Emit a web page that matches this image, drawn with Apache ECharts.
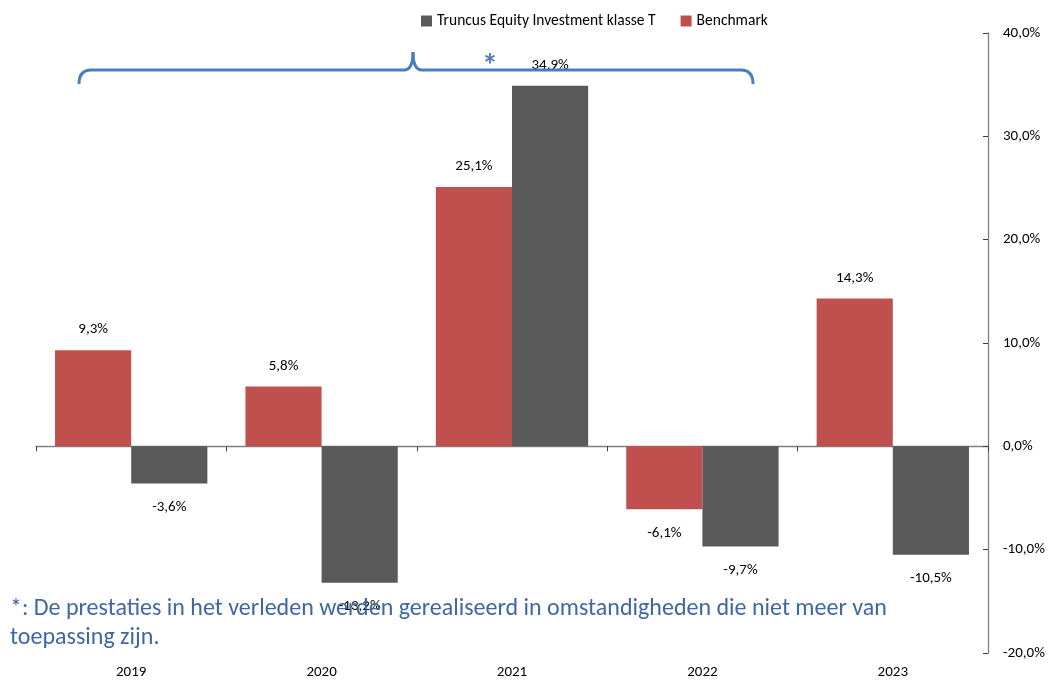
<!DOCTYPE html>
<html>
<head>
<meta charset="utf-8">
<script src="https://cdn.jsdelivr.net/npm/echarts@6/dist/echarts.min.js"></script>
<style>html,body{margin:0;padding:0;background:#fff}#c{width:1051px;height:683px}</style>
</head>
<body>
<div id="c"></div>
<script>
const categories = ['2019', '2020', '2021', '2022', '2023'];
const truncusValues = [-3.6, -13.2, 34.9, -9.7, -10.5];
const benchmarkValues = [9.3, 5.8, 25.1, -6.1, 14.3];
const seriesNames = ['Truncus Equity Investment klasse T', 'Benchmark'];
const yTicks = { min: -20, max: 40, interval: 10 };
const footnoteLines = ['*: De prestaties in het verleden werden gerealiseerd in omstandigheden die niet meer van', 'toepassing zijn.'];

const FONT = 'Carlito, "Liberation Sans Narrow", "Open Sans", sans-serif';
const fmt = v => v.toFixed(1).replace('.', ',') + '%';
const toData = arr => arr.map(v => v < 0 ? { value: v, label: { position: 'bottom', distance: 16 } } : v);

const chart = echarts.init(document.getElementById('c'));
const labelCfg = { show: true, position: 'top', distance: 13, fontFamily: FONT, fontSize: 15, color: '#000', formatter: p => fmt(p.value) };

const braceStyle = { fill: 'none', stroke: '#4A7EBB', lineWidth: 3 };
const curve = (x1, y1, cx, cy, x2, y2) => ({ type: 'bezierCurve', z: 100, shape: { x1, y1, x2, y2, cpx1: cx, cpy1: cy }, style: braceStyle });
const seg = (x1, y1, x2, y2) => ({ type: 'line', z: 100, shape: { x1, y1, x2, y2 }, style: braceStyle });

chart.setOption({
  animation: false,
  textStyle: { fontFamily: FONT },
  legend: {
    top: 8, left: 416,
    itemWidth: 11, itemHeight: 11, itemGap: 25,
    icon: 'rect',
    textStyle: { fontFamily: FONT, fontSize: 15.5, color: '#000' },
    data: [seriesNames[0], seriesNames[1]]
  },
  grid: { left: 36, right: 63, top: 33, bottom: 30 },
  xAxis: [
    {
      type: 'category', data: categories,
      axisLine: { onZero: true, lineStyle: { color: '#808080', width: 1.3 } },
      axisTick: { show: true, length: 5, lineStyle: { color: '#404040' } },
      axisLabel: { show: false }
    },
    {
      type: 'category', data: categories, position: 'bottom',
      axisLine: { show: false }, axisTick: { show: false },
      axisLabel: { margin: 12, fontFamily: FONT, fontSize: 15, color: '#000' }
    }
  ],
  yAxis: {
    type: 'value', position: 'right', min: yTicks.min, max: yTicks.max, interval: yTicks.interval,
    splitLine: { show: false },
    axisLine: { show: true, lineStyle: { color: '#808080', width: 1.3 } },
    axisTick: { show: true, inside: true, length: 5, lineStyle: { color: '#404040' } },
    axisLabel: { margin: 15, fontFamily: FONT, fontSize: 15, color: '#000', formatter: v => fmt(v) }
  },
  series: [
    {
      name: seriesNames[1], type: 'bar', data: toData(benchmarkValues),
      itemStyle: { color: '#C0504D' }, barGap: '0%', barCategoryGap: '20%',
      label: labelCfg
    },
    {
      name: seriesNames[0], type: 'bar', data: toData(truncusValues),
      itemStyle: { color: '#595959' }, barGap: '0%', barCategoryGap: '20%',
      label: labelCfg
    }
  ],
  graphic: [
    curve(79, 84, 79, 70, 91, 70),
    seg(91, 70, 404, 70),
    curve(404, 70, 413, 70, 413, 52),
    curve(413, 52, 413, 70, 422, 70),
    seg(422, 70, 741, 70),
    curve(741, 70, 753, 70, 753, 84),
    {
      type: 'text', z: 100, left: 482, top: 52,
      style: { text: '*', fill: '#4A7EBB', font: 'bold 32px ' + FONT }
    },
    {
      type: 'text', z: 100, left: 10, top: 597,
      style: { text: footnoteLines[0], fill: '#3F68A3', font: '24px ' + FONT }
    },
    {
      type: 'text', z: 100, left: 10, top: 626,
      style: { text: footnoteLines[1], fill: '#3F68A3', font: '24px ' + FONT }
    }
  ]
});
</script>
</body>
</html>
